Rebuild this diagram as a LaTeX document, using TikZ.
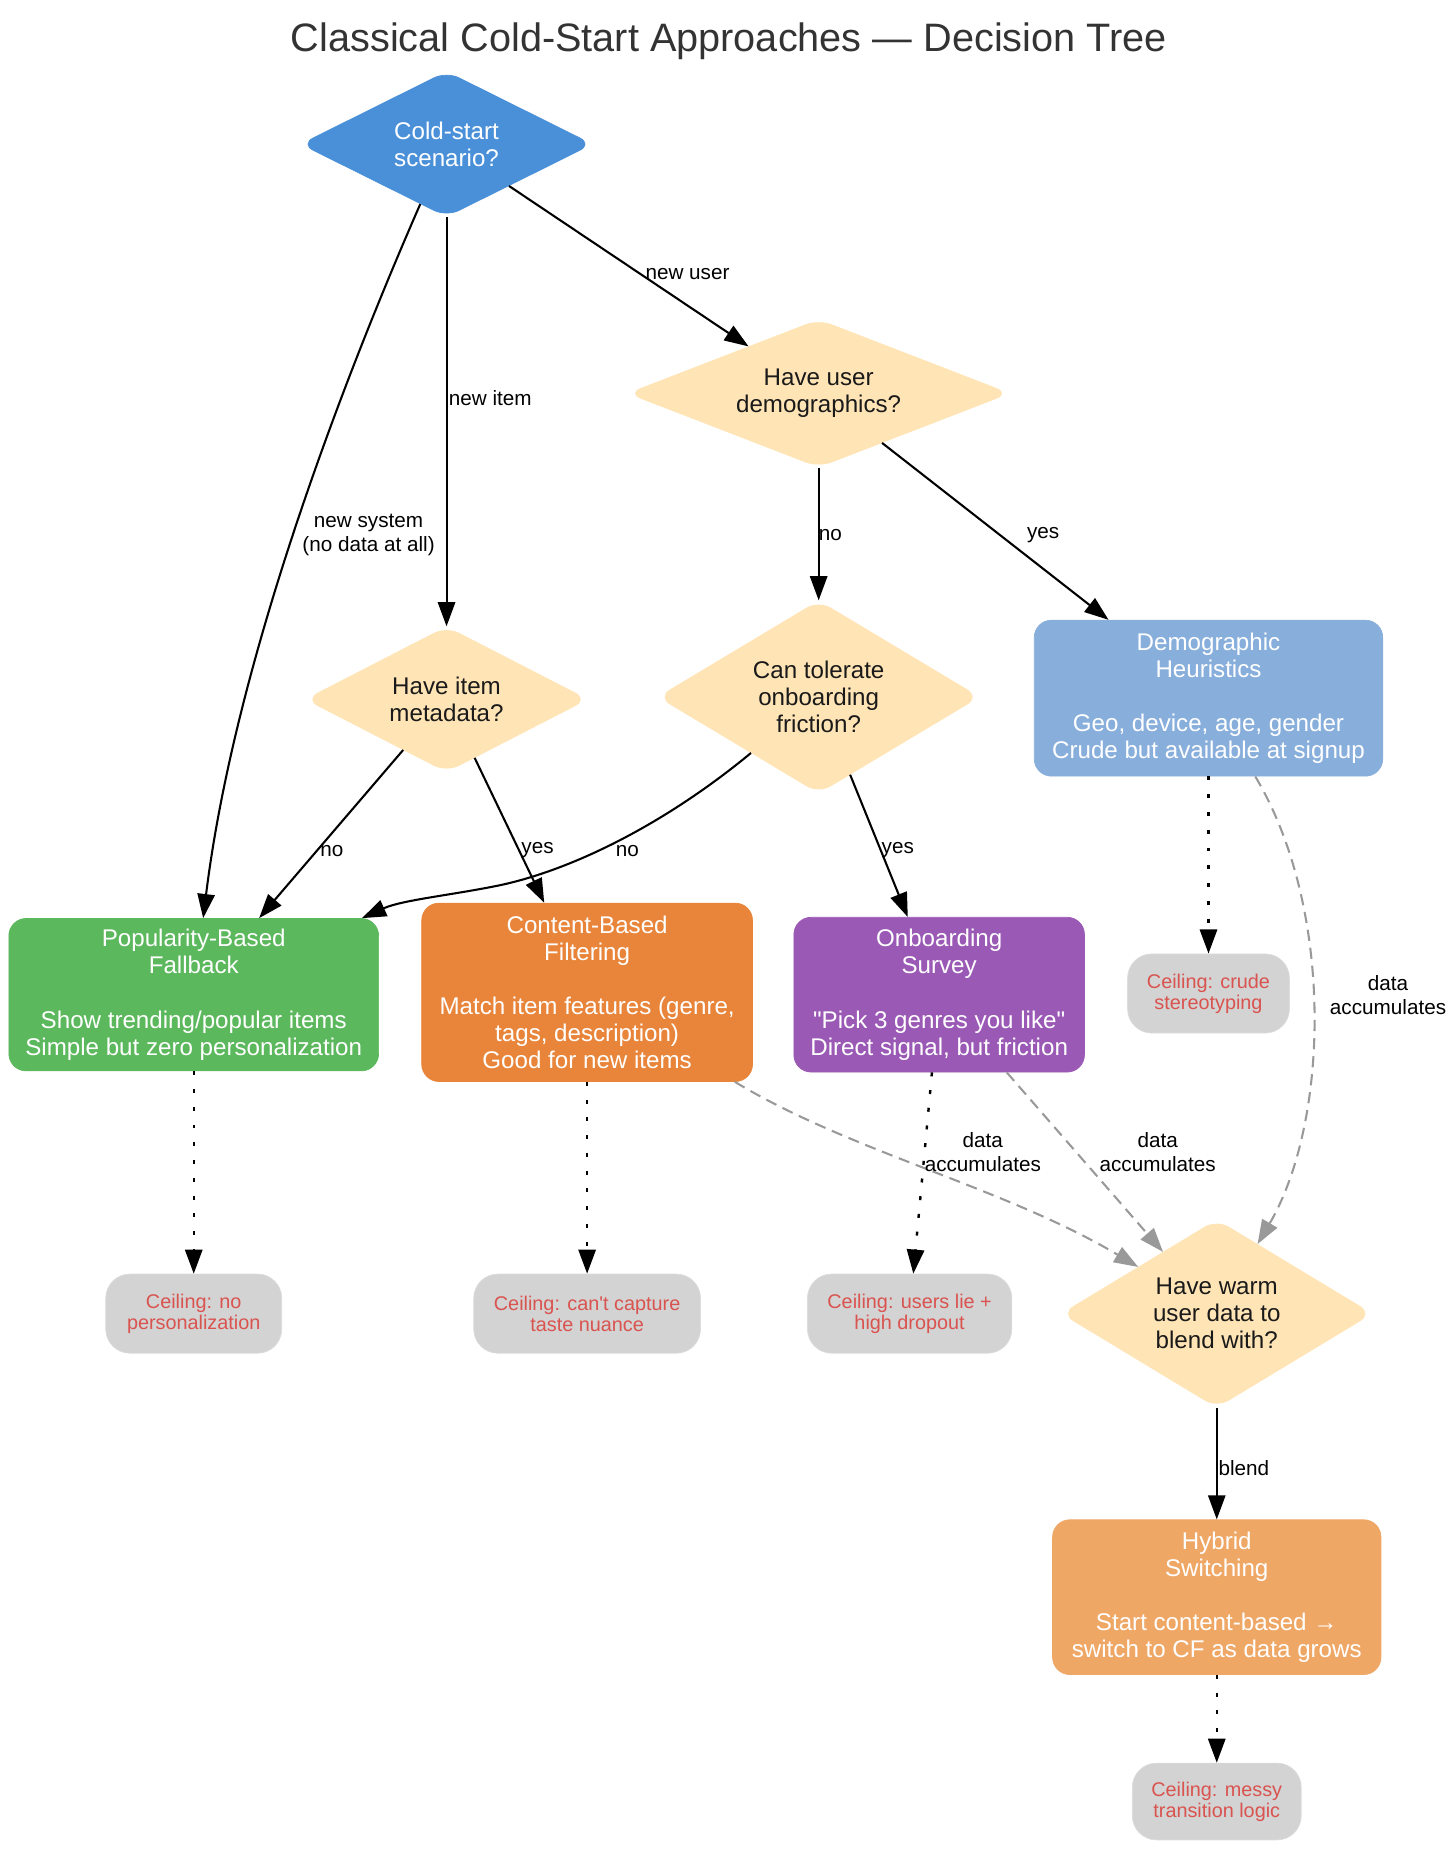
\documentclass[tikz,border=0pt]{standalone}
\usepackage{fontspec}
\setmainfont{Liberation Sans}[Ligatures=TeXOff]
\usetikzlibrary{shapes.geometric,arrows.meta}
\definecolor{coldblue}{HTML}{4A90D9}
\definecolor{qfill}{HTML}{FFE4B5}
\definecolor{heurblue}{HTML}{88AEDB}
\definecolor{popgreen}{HTML}{5CB85C}
\definecolor{cborange}{HTML}{E8853A}
\definecolor{onbpurple}{HTML}{9B59B6}
\definecolor{hybor}{HTML}{EFA766}
\definecolor{ceilfill}{HTML}{D3D3D3}
\definecolor{ceilline}{HTML}{DDDDDD}
\definecolor{ceiltext}{HTML}{D9534F}
\definecolor{dashgray}{HTML}{999999}
\definecolor{titlegray}{HTML}{333333}
\definecolor{qtext}{HTML}{1A1A1A}
\newcommand\upx{0.685pt}
\begin{document}
\begin{tikzpicture}[x=0.685pt,y=0.685pt,
  q/.style={diamond, fill=qfill, draw=qfill, text=qtext, rounded corners=8pt, inner sep=0pt,
    font=\fontsize{14}{15.75}\selectfont, align=center},
  qsize/.style n args={3}{minimum width=#1*\upx, minimum height=#2*\upx, aspect=#3},
  box/.style={rectangle, rounded corners=10pt, text=white, inner sep=0pt,
    font=\fontsize{14}{15.75}\selectfont, align=center},
  bsize/.style 2 args={minimum width=#1*\upx, minimum height=#2*\upx},
  ceil/.style={rectangle, rounded corners=14pt, fill=ceilfill, draw=ceilline, text=ceiltext,
    inner sep=0pt, font=\fontsize{11.5}{12.3}\selectfont, align=center},
  lbl/.style={inner sep=0pt, align=center, font=\fontsize{12}{13.9}\selectfont, text=black},
  titlestyle/.style={inner sep=0pt, font=\fontsize{23}{27}\selectfont, text=titlegray},
  tipshape/.style={-{Triangle[length=14pt,width=10pt]}},
  arr/.style={draw=black, line width=1.2pt, tipshape},
  dotarr/.style={draw=black, line width=1.4pt, dash pattern=on 2.3pt off 8pt, tipshape},
  dasharr/.style={draw=dashgray, line width=1.2pt, dash pattern=on 6.5pt off 4pt, tipshape}
]
\useasboundingbox (0,0) rectangle (1232.5,-1565.2);

\node[titlestyle] (title) at (617,-35) {Classical Cold-Start Approaches — Decision Tree};

% decision nodes
\node[q, qsize={247}{123}{2.008}, fill=coldblue, draw=coldblue, text=white] (cold) at (378,-122) {Cold-start\\scenario?};
\node[q, qsize={323}{125}{2.584}] (demq) at (693,-333) {Have user\\demographics?};
\node[q, qsize={239}{123}{1.943}] (itemq) at (378,-592) {Have item\\metadata?};
\node[q, qsize={272}{163}{1.669}] (tolq) at (693,-590) {Can tolerate\\onboarding\\friction?};
\node[q, qsize={263}{159}{1.654}] (warmq) at (1030,-1112) {Have warm\\user data to\\blend with?};

% approach boxes
\node[box, bsize={295}{132}, fill=heurblue, draw=heurblue] (heur) at (1023,-591)
  {Demographic\\Heuristics\\[15.75pt]Geo, device, age, gender\\Crude but available at signup};
\node[box, bsize={313}{129}, fill=popgreen, draw=popgreen] (pop) at (164,-842)
  {Popularity-Based\\Fallback\\[15.75pt]Show trending/popular items\\Simple but zero personalization};
\node[box, bsize={280}{151}, fill=cborange, draw=cborange] (cb) at (497,-840)
  {Content-Based\\Filtering\\[15.75pt]Match item features (genre,\\tags, description)\\Good for new items};
\node[box, bsize={246}{131}, fill=onbpurple, draw=onbpurple] (onb) at (795,-842)
  {Onboarding\\Survey\\[15.75pt]"Pick 3 genres you like"\\Direct signal, but friction};
\node[box, bsize={278}{131}, fill=hybor, draw=hybor] (hyb) at (1030,-1352)
  {Hybrid\\Switching\\[15.75pt]Start content-based →\\switch to CF as data grows};

% ceilings
\node[ceil, bsize={137}{67}] (cdem) at (1023,-841) {Ceiling: crude\\stereotyping};
\node[ceil, bsize={149}{67}] (cpop) at (164,-1112) {Ceiling: no\\personalization};
\node[ceil, bsize={192}{67}] (ccb) at (497,-1112) {Ceiling: can't capture\\taste nuance};
\node[ceil, bsize={173}{67}] (conb) at (770,-1112) {Ceiling: users lie +\\high dropout};
\node[ceil, bsize={143}{65}] (chyb) at (1030,-1525) {Ceiling: messy\\transition logic};

% edges
\draw[arr] (cold) .. controls (300,-300) and (200,-550) .. (pop);
\draw[arr] (cold) -- (itemq);
\draw[arr] (cold) -- (demq);
\draw[arr] (demq) -- (tolq);
\draw[arr] (demq) -- (heur);
\draw[arr] (itemq) -- (pop);
\draw[arr] (itemq) -- (cb);
\draw[arr] (tolq) .. controls (560,-700) and (480,-738) .. (420,-750) .. controls (380,-758) and (340,-762) .. (pop);
\draw[arr] (tolq) -- (onb);
\draw[dotarr] (heur) -- (cdem);
\draw[dasharr] (heur) .. controls (1130,-770) and (1125,-950) .. (warmq);
\draw[dotarr] (pop) -- (cpop);
\draw[dotarr] (cb) -- (ccb);
\draw[dasharr] (cb) .. controls (720,-975) and (850,-1005) .. (warmq);
\draw[dotarr] (onb) -- (conb);
\draw[dasharr] (onb) -- (warmq);
\draw[arr] (warmq) -- (hyb);
\draw[dotarr] (hyb) -- (chyb);

% edge labels
\node[lbl] (lsys) at (312,-453) {new system\\(no data at all)};
\node[lbl] (litem) at (415,-337) {new item};
\node[lbl] (luser) at (582,-232) {new user};
\node[lbl] (ldemno) at (703,-453) {no};
\node[lbl] (ldemyes) at (883,-453) {yes};
\node[lbl] (litemno) at (281,-720) {no};
\node[lbl] (litemyes) at (455,-720) {yes};
\node[lbl] (ltolno) at (531,-720) {no};
\node[lbl] (ltolyes) at (760,-720) {yes};
\node[lbl] (lacc1) at (832,-975) {data\\accumulates};
\node[lbl] (lacc2) at (980,-975) {data\\accumulates};
\node[lbl] (lacc3) at (1175,-842) {data\\accumulates};
\node[lbl] (lblend) at (1053,-1243) {blend};
\end{tikzpicture}
\end{document}
